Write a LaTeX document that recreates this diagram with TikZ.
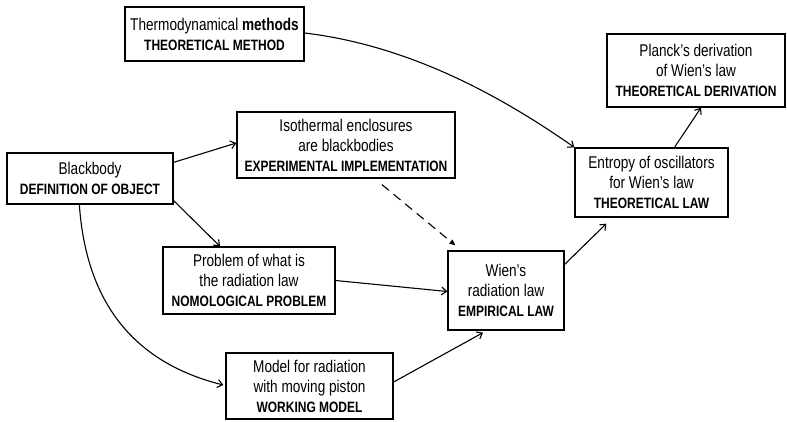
\documentclass[tikz,border=0pt]{standalone}
\usepackage{fontspec}
\setmainfont[FakeStretch=0.8]{Liberation Sans}
\usetikzlibrary{arrows.meta,calc}
\newcommand{\tb}[1]{{\fontsize{15}{19}\selectfont\bfseries #1}}
\begin{document}
\begin{tikzpicture}[x=1pt,y=-1pt,
  box/.style={draw,line width=1.3pt,align=center,inner sep=0pt,font=\fontsize{17}{20}\selectfont},
  conn/.style={line width=1.1pt,-{Straight Barb[length=5pt,width=8pt,line width=1.1pt]}},
  dconn/.style={line width=1.1pt,dash pattern=on 9pt off 6pt,-{Triangle[length=6pt,width=5pt]}}]
\useasboundingbox (0,0) rectangle (787,421);
\node[box,minimum width=179pt,minimum height=54pt] (thermo) at (214.5,34) {Thermodynamical \textbf{methods}\\\tb{THEORETICAL METHOD}};
\node[box,minimum width=218pt,minimum height=66pt] (iso) at (346,145) {Isothermal enclosures\\are blackbodies\\\tb{EXPERIMENTAL IMPLEMENTATION}};
\node[box,minimum width=166pt,minimum height=51pt] (black) at (90,178.5) {Blackbody\\\tb{DEFINITION OF OBJECT}};
\node[box,minimum width=178pt,minimum height=73pt] (planck) at (696,70.5) {Planck’s derivation\\of Wien’s law\\\tb{THEORETICAL DERIVATION}};
\node[box,minimum width=153pt,minimum height=69pt] (entropy) at (651.5,182.5) {Entropy of oscillators\\for Wien’s law\\\tb{THEORETICAL LAW}};
\node[box,minimum width=172pt,minimum height=67pt] (problem) at (249,280.5) {Problem of what is\\the radiation law\\\tb{NOMOLOGICAL PROBLEM}};
\node[box,minimum width=167pt,minimum height=66pt] (model) at (309.5,386) {Model for radiation\\with moving piston\\\tb{WORKING MODEL}};
\node[box,minimum width=116pt,minimum height=79pt] (wien) at (506,290.5) {Wien’s\\radiation law\\\tb{EMPIRICAL LAW}};

\draw[conn] ($(thermo.east)+(0,-1)$) .. controls ($(thermo.east)+(100,11)$) and ($(entropy.north west)+(-80,-56)$) .. (entropy.north west);
\draw[conn] ($(black.north east)+(0,10)$) -- ($(iso.west)+(0,-2)$);
\draw[conn] ($(black.south east)+(0,-4)$) -- ($(problem.north)+(-29,0)$);
\draw[conn] ($(black.south west)+(73,0)$) .. controls ($(black.south west)+(79,86)$) and ($(model.west)+(-102,-26)$) .. ($(model.west)+(-2,-1)$);
\draw[dconn] ($(iso.south)+(36,6)$) -- ($(wien.north west)+(8,-5)$);
\draw[conn] (problem.east) -- ($(wien.west)+(0,1)$);
\draw[conn] ($(model.east)+(0,-4)$) -- ($(wien.south)+(-23,2)$);
\draw[conn] ($(wien.north east)+(0,14)$) -- ($(entropy.south west)+(32,6)$);
\draw[conn] ($(entropy.north)+(23,0)$) -- ($(planck.south)+(5,0)$);
\end{tikzpicture}
\end{document}
